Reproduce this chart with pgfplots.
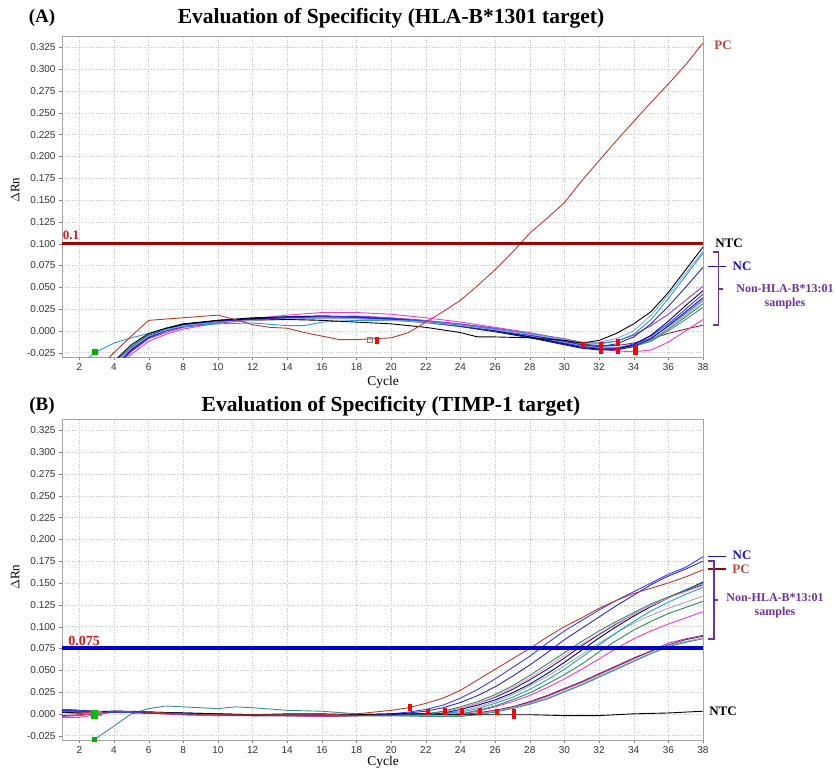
\documentclass[border=0pt]{standalone}
\usepackage{fontspec}
\setmainfont{Liberation Serif}
\setsansfont{Liberation Sans}
\usepackage{pgfplots}
\pgfplotsset{compat=1.18}

\definecolor{pcred}{RGB}{192,57,43}
\definecolor{thred}{RGB}{160,0,0}
\definecolor{labthr}{RGB}{225,20,20}
\definecolor{thblue}{RGB}{0,0,205}
\definecolor{cblue}{RGB}{40,40,224}
\definecolor{cblue2}{RGB}{58,58,255}
\definecolor{croyal}{RGB}{74,111,224}
\definecolor{cnavy}{RGB}{0,0,128}
\definecolor{cdblue}{RGB}{26,26,168}
\definecolor{csteel}{RGB}{143,163,217}
\definecolor{ccyan}{RGB}{31,159,213}
\definecolor{cteal}{RGB}{58,144,144}
\definecolor{cgreen}{RGB}{46,139,87}
\definecolor{cgray}{RGB}{168,168,168}
\definecolor{cmag}{RGB}{255,51,204}
\definecolor{cpink}{RGB}{255,153,204}
\definecolor{cpurple}{RGB}{154,60,216}
\definecolor{cdmag}{RGB}{139,34,82}
\definecolor{labpurple}{RGB}{112,48,160}
\definecolor{labblue}{RGB}{20,20,210}
\definecolor{labred}{RGB}{192,70,60}

\pgfplotsset{
  amp/.style={
    width=641pt, height=321pt, scale only axis,
    xmin=1, xmax=38, ymin=-0.03, ymax=0.338,
    xtick={2,4,...,38},
    ytick={-0.025,0,0.025,0.05,0.075,0.1,0.125,0.15,0.175,0.2,0.225,0.25,0.275,0.3,0.325},
    yticklabel style={/pgf/number format/.cd, fixed, fixed zerofill, precision=3},
    /pgf/number format/assume math mode=true,
    ticklabel style={font=\fontsize{10}{12}\sffamily, text=black!80},
    tick pos=left, tick align=outside, major tick length=3pt,
    tick style={gray},
    axis line style={gray!70},
    grid=major, major grid style={dotted, gray!45},
    every axis plot/.append style={line width=0.9pt, mark=none},
  },
  thmark/.style={only marks, mark=square*, mark size=2.8pt,
    mark options={xscale=0.55, fill=red, draw=red}},
}

\begin{document}
\begin{tikzpicture}
\useasboundingbox (0,0) rectangle (836pt,-771pt);

% ---------- (A) ----------
\begin{axis}[amp, at={(62pt,-357pt)}, anchor=south west]
\addplot[cdmag] coordinates {(3,-0.06)(4,-0.04)(5,-0.02)(6,-0.006)(7,0.001)(8,0.006)(10,0.010)(12,0.013)(14,0.015)(16,0.016)(18,0.015)(20,0.013)(22,0.010)(24,0.006)(26,0.001)(28,-0.005)(30,-0.011)(31,-0.015)(32,-0.017)(33,-0.017)(34,-0.014)(35,-0.009)(36,-0.003)(37,0.002)(38,0.0065)};
\addplot[cmag] coordinates {(3,-0.07)(4,-0.048)(5,-0.027)(6,-0.012)(7,-0.004)(8,0.002)(10,0.009)(12,0.014)(14,0.018)(16,0.021)(18,0.021)(20,0.019)(22,0.015)(24,0.010)(26,0.004)(28,-0.002)(30,-0.010)(31,-0.016)(32,-0.021)(33,-0.023)(34,-0.024)(35,-0.022)(36,-0.013)(37,0.000)(38,0.013)};
\addplot[cteal] coordinates {(3,-0.057)(4,-0.038)(5,-0.019)(6,-0.005)(7,0.002)(8,0.007)(10,0.010)(12,0.012)(14,0.013)(16,0.014)(18,0.014)(20,0.013)(22,0.010)(24,0.006)(26,0.001)(28,-0.005)(30,-0.012)(31,-0.016)(32,-0.018)(33,-0.019)(34,-0.018)(35,-0.012)(36,0.000)(37,0.013)(38,0.027)};
\addplot[cgreen] coordinates {(3,-0.057)(4,-0.037)(5,-0.018)(6,-0.004)(7,0.003)(8,0.008)(10,0.011)(12,0.013)(14,0.014)(16,0.015)(18,0.015)(20,0.014)(22,0.011)(24,0.006)(26,0.000)(28,-0.006)(30,-0.013)(31,-0.017)(32,-0.019)(33,-0.020)(34,-0.018)(35,-0.011)(36,0.002)(37,0.016)(38,0.031)};
\addplot[cgray] coordinates {(3,-0.058)(4,-0.039)(5,-0.02)(6,-0.006)(7,0.001)(8,0.006)(10,0.010)(12,0.012)(14,0.013)(16,0.014)(18,0.014)(20,0.012)(22,0.009)(24,0.005)(26,0.000)(28,-0.006)(30,-0.013)(31,-0.017)(32,-0.019)(33,-0.020)(34,-0.018)(35,-0.010)(36,0.003)(37,0.018)(38,0.034)};
\addplot[croyal] coordinates {(3,-0.061)(4,-0.041)(5,-0.021)(6,-0.007)(7,0.001)(8,0.006)(10,0.011)(12,0.014)(14,0.015)(16,0.016)(18,0.015)(20,0.013)(22,0.010)(24,0.005)(26,-0.001)(28,-0.007)(30,-0.015)(31,-0.019)(32,-0.021)(33,-0.021)(34,-0.017)(35,-0.008)(36,0.005)(37,0.020)(38,0.036)};
\addplot[cdblue] coordinates {(3,-0.063)(4,-0.043)(5,-0.023)(6,-0.008)(7,0.000)(8,0.005)(10,0.010)(12,0.014)(14,0.016)(16,0.017)(18,0.016)(20,0.013)(22,0.010)(24,0.005)(26,-0.001)(28,-0.008)(30,-0.016)(31,-0.020)(32,-0.022)(33,-0.022)(34,-0.018)(35,-0.009)(36,0.006)(37,0.022)(38,0.038)};
\addplot[cblue2] coordinates {(3,-0.06)(4,-0.04)(5,-0.02)(6,-0.006)(7,0.002)(8,0.007)(10,0.012)(12,0.014)(14,0.016)(16,0.016)(18,0.015)(20,0.013)(22,0.010)(24,0.006)(26,0.000)(28,-0.007)(30,-0.014)(31,-0.018)(32,-0.020)(33,-0.020)(34,-0.015)(35,-0.006)(36,0.008)(37,0.025)(38,0.042)};
\addplot[cnavy] coordinates {(3,-0.06)(4,-0.041)(5,-0.021)(6,-0.006)(7,0.002)(8,0.007)(10,0.012)(12,0.015)(14,0.016)(16,0.017)(18,0.016)(20,0.014)(22,0.011)(24,0.006)(26,0.000)(28,-0.007)(30,-0.015)(31,-0.019)(32,-0.021)(33,-0.021)(34,-0.016)(35,-0.005)(36,0.011)(37,0.029)(38,0.046)};
\addplot[cpurple] coordinates {(3,-0.065)(4,-0.045)(5,-0.024)(6,-0.009)(7,-0.002)(8,0.004)(10,0.009)(12,0.012)(14,0.014)(16,0.016)(18,0.017)(20,0.015)(22,0.012)(24,0.008)(26,0.003)(28,-0.003)(30,-0.009)(31,-0.013)(32,-0.014)(33,-0.012)(34,-0.005)(35,0.006)(36,0.019)(37,0.035)(38,0.051)};
\addplot[cblue] coordinates {(3,-0.062)(4,-0.042)(5,-0.022)(6,-0.008)(7,0.000)(8,0.005)(10,0.010)(12,0.013)(14,0.015)(16,0.016)(18,0.016)(20,0.014)(22,0.011)(24,0.007)(26,0.002)(28,-0.005)(30,-0.012)(31,-0.016)(32,-0.018)(33,-0.015)(34,-0.007)(35,0.008)(36,0.028)(37,0.050)(38,0.073)};
\addplot[ccyan] coordinates {(2.5,-0.031)(3,-0.024)(4,-0.014)(5,-0.008)(6,-0.003)(7,0.002)(8,0.005)(10,0.008)(12,0.009)(14,0.006)(15,0.006)(16,0.010)(18,0.012)(20,0.012)(22,0.011)(24,0.007)(26,0.002)(28,-0.003)(30,-0.010)(31,-0.015)(32,-0.015)(33,-0.012)(34,-0.004)(35,0.013)(36,0.037)(37,0.063)(38,0.089)};
\addplot[csteel] coordinates {(3,-0.06)(4,-0.04)(5,-0.02)(6,-0.006)(7,0.001)(8,0.006)(10,0.010)(12,0.012)(14,0.014)(16,0.015)(18,0.014)(20,0.012)(22,0.010)(24,0.006)(26,0.001)(28,-0.004)(30,-0.010)(31,-0.014)(32,-0.013)(33,-0.009)(34,0.000)(35,0.018)(36,0.041)(37,0.066)(38,0.091)};
\addplot[black] coordinates {(3,-0.055)(4,-0.035)(5,-0.016)(6,-0.003)(7,0.003)(8,0.008)(10,0.012)(12,0.014)(14,0.013)(16,0.012)(18,0.010)(20,0.008)(22,0.004)(24,-0.002)(25,-0.007)(26,-0.007)(28,-0.008)(30,-0.011)(31,-0.014)(32,-0.011)(33,-0.003)(34,0.008)(35,0.022)(36,0.044)(37,0.070)(38,0.096)};
\addplot[pcred] coordinates {(3,-0.045)(4,-0.025)(5,-0.006)(6,0.012)(8,0.015)(10,0.018)(11,0.013)(12,0.007)(13,0.004)(14,0.003)(15,-0.002)(16,-0.006)(17,-0.010)(18,-0.010)(19,-0.009)(20,-0.008)(21,-0.002)(22,0.010)(23,0.022)(24,0.035)(25,0.052)(26,0.070)(27,0.090)(28,0.112)(29,0.129)(30,0.147)(31,0.172)(32,0.195)(33,0.218)(34,0.240)(35,0.262)(36,0.283)(37,0.305)(38,0.330)};
% threshold
\addplot[thred, line width=3.2pt] coordinates {(1,0.1)(38,0.1)};
% threshold-cycle markers
\addplot[only marks, mark=square*, mark size=2.5pt, mark options={fill=green!70!black, draw=green!70!black}] coordinates {(2.9,-0.024)};
\addplot[only marks, mark=square, mark size=2.5pt, mark options={draw=gray}] coordinates {(18.8,-0.011)};
\addplot[thmark] coordinates {(19.2,-0.011)(31.1,-0.016)(32.1,-0.016)(32.1,-0.023)(33.1,-0.013)(33.1,-0.023)(34.1,-0.020)(34.1,-0.024)};
\end{axis}

\node[font=\bfseries\fontsize{19}{22}\selectfont] at (42pt,-18pt) {(A)};
\node[font=\bfseries\fontsize{21.5}{24}\selectfont] at (391pt,-18pt) {Evaluation of Specificity (HLA-B*1301 target)};
\node[rotate=90, font=\fontsize{13}{15}\selectfont] at (15pt,-190pt) {$\Delta$Rn};
\node[font=\fontsize{13.5}{15}\selectfont] at (383pt,-382pt) {Cycle};
\node[font=\bfseries\fontsize{13}{15}\selectfont, text=labthr] at (71pt,-235pt) {0.1};
\node[font=\bfseries\fontsize{13}{15}\selectfont, text=labred] at (723pt,-45pt) {PC};
\node[font=\bfseries\fontsize{13}{15}\selectfont] at (729pt,-243pt) {NTC};
\draw[labblue, line width=1.4pt] (708pt,-266.5pt) -- (726pt,-266.5pt);
\node[font=\bfseries\fontsize{13}{15}\selectfont, text=labblue] at (742pt,-266pt) {NC};
\draw[labpurple, line width=1.3pt] (712.5pt,-252pt) -- (718.5pt,-252pt) -- (718.5pt,-325pt) -- (712.5pt,-325pt)
  (718.5pt,-289pt) -- (723pt,-289pt);
\node[font=\bfseries\fontsize{12}{14}\selectfont, text=labpurple, align=center] at (785pt,-297pt) {Non-HLA-B*13:01\\samples};

% ---------- (B) ----------
\begin{axis}[amp, at={(62pt,-740pt)}, anchor=south west]
\addplot[cpurple] coordinates {(1,-0.003)(2,-0.002)(3,0.000)(4,0.002)(6,0.001)(8,-0.001)(10,-0.002)(12,-0.002)(14,-0.002)(16,-0.002)(18,-0.002)(20,-0.002)(22,-0.002)(24,-0.001)(25,0.001)(26,0.004)(27,0.008)(28,0.013)(29,0.020)(30,0.028)(31,0.036)(32,0.045)(33,0.054)(34,0.063)(35,0.072)(36,0.081)(37,0.086)(38,0.090)};
\addplot[cdmag] coordinates {(1,-0.002)(2,-0.001)(3,0.001)(4,0.002)(6,0.001)(8,-0.001)(10,-0.002)(12,-0.001)(14,-0.002)(16,-0.003)(18,-0.002)(20,-0.002)(22,-0.001)(24,-0.001)(25,0.001)(26,0.004)(27,0.008)(28,0.014)(29,0.021)(30,0.029)(31,0.037)(32,0.046)(33,0.055)(34,0.064)(35,0.072)(36,0.079)(37,0.085)(38,0.089)};
\addplot[cgray] coordinates {(1,0.001)(2,0.001)(3,0.001)(4,0.002)(6,0.001)(8,0.000)(10,-0.001)(12,-0.001)(14,-0.001)(16,-0.002)(18,-0.002)(20,-0.002)(22,-0.002)(24,-0.002)(25,0.000)(26,0.003)(27,0.007)(28,0.012)(29,0.018)(30,0.026)(31,0.034)(32,0.043)(33,0.052)(34,0.061)(35,0.070)(36,0.078)(37,0.083)(38,0.087)};
\addplot[cteal] coordinates {(2.9,-0.029)(4,-0.014)(5,0.000)(6,0.006)(7,0.009)(8,0.008)(10,0.006)(11,0.008)(12,0.007)(14,0.004)(16,0.003)(18,0.000)(20,-0.002)(22,-0.003)(24,-0.003)(25,-0.001)(26,0.002)(27,0.006)(28,0.011)(29,0.017)(30,0.025)(31,0.033)(32,0.042)(33,0.051)(34,0.060)(35,0.069)(36,0.077)(37,0.082)(38,0.086)};
\addplot[cmag] coordinates {(1,-0.004)(2,-0.004)(3,-0.001)(4,0.002)(6,0.001)(8,-0.001)(10,-0.002)(12,-0.001)(14,-0.002)(16,-0.003)(18,-0.002)(20,-0.001)(22,-0.001)(24,0.000)(25,0.003)(26,0.008)(27,0.014)(28,0.021)(29,0.030)(30,0.040)(31,0.051)(32,0.063)(33,0.075)(34,0.086)(35,0.095)(36,0.103)(37,0.110)(38,0.117)};
\addplot[cgreen] coordinates {(1,0.002)(2,0.001)(3,0.001)(4,0.003)(6,0.002)(8,0.000)(10,-0.001)(12,-0.001)(14,-0.001)(16,-0.002)(18,-0.001)(20,-0.001)(22,-0.001)(24,0.000)(25,0.004)(26,0.009)(27,0.016)(28,0.024)(29,0.034)(30,0.045)(31,0.057)(32,0.071)(33,0.084)(34,0.096)(35,0.106)(36,0.115)(37,0.122)(38,0.129)};
\addplot[cgray] coordinates {(1,0.003)(2,0.002)(3,0.002)(4,0.003)(6,0.002)(8,0.000)(10,-0.001)(12,-0.002)(14,-0.001)(16,-0.001)(18,-0.001)(20,-0.001)(22,0.000)(24,0.003)(25,0.008)(26,0.014)(27,0.022)(28,0.032)(29,0.043)(30,0.055)(31,0.068)(32,0.081)(33,0.093)(34,0.104)(35,0.113)(36,0.121)(37,0.128)(38,0.135)};
\addplot[ccyan] coordinates {(1,0.004)(2,0.003)(3,0.002)(4,0.003)(6,0.002)(8,0.000)(10,-0.001)(12,-0.001)(14,-0.002)(16,-0.002)(18,-0.001)(20,-0.001)(22,0.000)(24,0.002)(25,0.006)(26,0.012)(27,0.019)(28,0.028)(29,0.039)(30,0.051)(31,0.065)(32,0.079)(33,0.093)(34,0.106)(35,0.118)(36,0.128)(37,0.137)(38,0.145)};
\addplot[cnavy] coordinates {(1,0.005)(2,0.004)(3,0.003)(4,0.003)(6,0.002)(8,0.001)(10,0.000)(12,-0.001)(14,-0.001)(16,-0.002)(18,-0.002)(20,-0.001)(22,-0.001)(23,0.001)(24,0.005)(25,0.010)(26,0.016)(27,0.024)(28,0.034)(29,0.046)(30,0.059)(31,0.073)(32,0.087)(33,0.100)(34,0.112)(35,0.123)(36,0.133)(37,0.142)(38,0.151)};
\addplot[cdblue] coordinates {(1,0.004)(2,0.003)(3,0.002)(4,0.002)(6,0.001)(8,0.000)(10,-0.001)(12,-0.002)(14,-0.002)(16,-0.002)(18,-0.002)(20,-0.001)(22,0.000)(23,0.002)(24,0.006)(25,0.012)(26,0.019)(27,0.028)(28,0.039)(29,0.051)(30,0.064)(31,0.078)(32,0.091)(33,0.103)(34,0.114)(35,0.124)(36,0.133)(37,0.141)(38,0.148)};
\addplot[cpink] coordinates {(1,0.001)(2,0.000)(3,0.001)(4,0.003)(6,0.002)(8,0.000)(10,-0.001)(12,-0.001)(14,-0.002)(16,-0.002)(18,-0.001)(20,-0.001)(22,-0.001)(23,0.002)(24,0.006)(25,0.012)(26,0.020)(27,0.030)(28,0.041)(29,0.054)(30,0.067)(31,0.080)(32,0.092)(33,0.104)(34,0.114)(35,0.124)(36,0.133)(37,0.140)(38,0.147)};
\addplot[cgreen] coordinates {(1,0.002)(2,0.001)(3,0.001)(4,0.003)(6,0.002)(8,0.000)(10,-0.001)(12,-0.002)(14,-0.001)(16,-0.002)(18,-0.002)(20,-0.002)(22,0.000)(23,0.003)(24,0.008)(25,0.014)(26,0.022)(27,0.032)(28,0.044)(29,0.057)(30,0.070)(31,0.083)(32,0.095)(33,0.106)(34,0.116)(35,0.126)(36,0.134)(37,0.142)(38,0.150)};
\addplot[cblue] coordinates {(1,0.004)(2,0.003)(3,0.001)(4,0.002)(6,0.001)(8,0.000)(10,-0.001)(12,-0.002)(14,-0.002)(16,-0.001)(18,-0.001)(20,-0.001)(21,0.001)(22,0.003)(23,0.007)(24,0.013)(25,0.021)(26,0.031)(27,0.043)(28,0.056)(29,0.070)(30,0.085)(31,0.098)(32,0.111)(33,0.124)(34,0.136)(35,0.148)(36,0.158)(37,0.166)(38,0.175)};
\addplot[cblue2] coordinates {(1,0.005)(2,0.004)(3,0.002)(4,0.002)(6,0.001)(8,0.000)(10,-0.001)(12,-0.001)(14,-0.002)(16,-0.002)(18,-0.001)(20,0.000)(21,0.002)(22,0.005)(23,0.010)(24,0.018)(25,0.028)(26,0.040)(27,0.053)(28,0.066)(29,0.081)(30,0.095)(31,0.107)(32,0.119)(33,0.130)(34,0.140)(35,0.150)(36,0.160)(37,0.168)(38,0.180)};
\addplot[black] coordinates {(1,0.002)(2,0.001)(3,0.002)(4,0.003)(5,0.003)(6,0.002)(8,0.001)(10,0.000)(12,-0.001)(14,0.000)(16,0.000)(18,-0.001)(20,0.000)(22,0.000)(24,-0.001)(26,-0.001)(28,-0.001)(30,-0.002)(32,-0.002)(34,0.000)(36,0.001)(38,0.003)};
\addplot[pcred] coordinates {(1,0.003)(2,0.002)(3,0.001)(4,0.003)(6,0.002)(8,0.000)(10,-0.001)(12,-0.001)(14,-0.001)(16,-0.001)(18,0.000)(19,0.002)(20,0.004)(21,0.007)(22,0.012)(23,0.018)(24,0.027)(25,0.039)(26,0.051)(27,0.063)(28,0.075)(29,0.088)(30,0.100)(31,0.110)(32,0.121)(33,0.130)(34,0.138)(35,0.144)(36,0.150)(37,0.157)(38,0.165)};
% threshold
\addplot[thblue, line width=4pt] coordinates {(1,0.075)(38,0.075)};
\addplot[only marks, mark=square*, mark size=3pt, mark options={fill=green!75!black, draw=green!75!black}] coordinates {(2.9,-0.002)(2.9,0.000)};
\addplot[only marks, mark=square*, mark size=2pt, mark options={fill=gray, draw=gray}] coordinates {(3.15,0.000)};
\addplot[only marks, mark=square*, mark size=2pt, mark options={fill=green!70!black, draw=green!70!black}] coordinates {(2.9,-0.029)};
\addplot[thmark] coordinates {(21.1,0.007)(22.1,0.002)(23.1,0.003)(24.1,0.003)(25.1,0.003)(26.1,0.002)(27.1,0.002)(27.1,-0.002)};
\end{axis}

\node[font=\bfseries\fontsize{19}{22}\selectfont] at (42pt,-406pt) {(B)};
\node[font=\bfseries\fontsize{21.5}{24}\selectfont] at (391pt,-406pt) {Evaluation of Specificity (TIMP-1 target)};
\node[rotate=90, font=\fontsize{13}{15}\selectfont] at (15pt,-577pt) {$\Delta$Rn};
\node[font=\fontsize{13.5}{15}\selectfont] at (383pt,-762pt) {Cycle};
\node[font=\bfseries\fontsize{14}{16}\selectfont, text=labthr] at (84pt,-641pt) {0.075};
\draw[labblue, line width=1.4pt] (708pt,-556.5pt) -- (726pt,-556.5pt);
\node[font=\bfseries\fontsize{13}{15}\selectfont, text=labblue] at (742pt,-555pt) {NC};
\draw[thred, line width=1.4pt] (708pt,-569pt) -- (726pt,-569pt);
\node[font=\bfseries\fontsize{13}{15}\selectfont, text=labred] at (741pt,-569pt) {PC};
\draw[labpurple, line width=1.3pt] (708pt,-561pt) -- (714pt,-561pt) -- (714pt,-639pt) -- (708pt,-639pt)
  (714pt,-600pt) -- (717.5pt,-600pt);
\node[font=\bfseries\fontsize{12}{14}\selectfont, text=labpurple, align=center] at (775pt,-606pt) {Non-HLA-B*13:01\\samples};
\node[font=\bfseries\fontsize{13}{15}\selectfont] at (723pt,-711pt) {NTC};
\end{tikzpicture}
\end{document}
